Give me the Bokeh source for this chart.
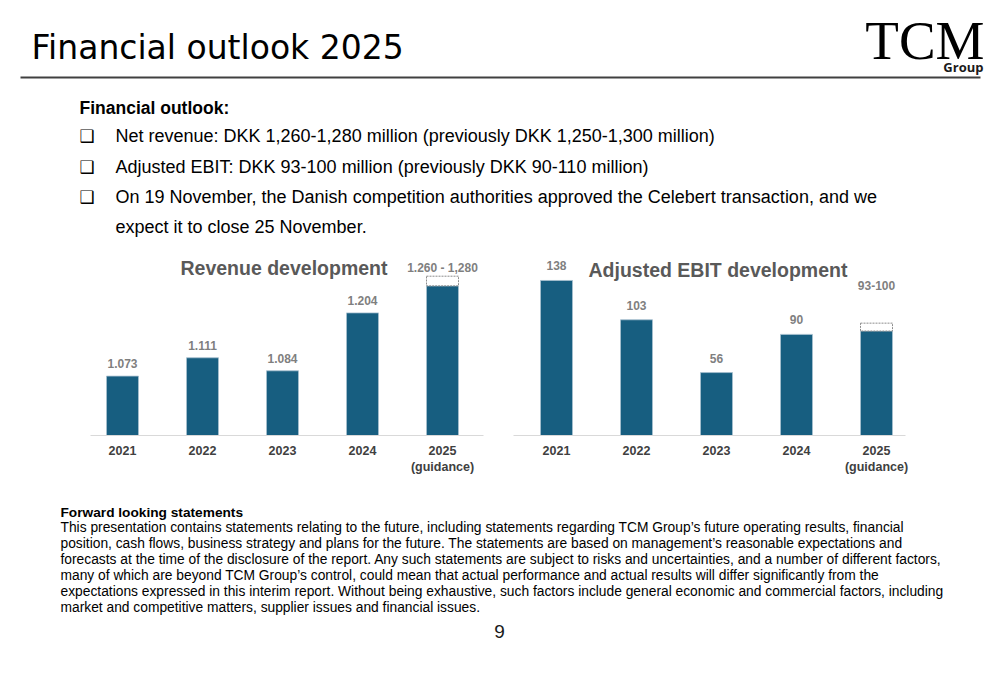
from bokeh.plotting import figure
from bokeh.layouts import column, row
from bokeh.models import Range1d, FixedTicker, Label
from bokeh.core.properties import value
from bokeh.embed import file_html
from bokeh.resources import INLINE

# ---------------- data ----------------
years = ["2021", "2022", "2023", "2024", "2025"]
year_tick_labels = ["2021", "2022", "2023", "2024", "2025\n(guidance)"]

revenue = [1073, 1111, 1084, 1204, 1260]          # DKK million, 2025 = guidance low end
revenue_guidance_high = 1280
revenue_labels = ["1.073", "1.111", "1.084", "1.204"]
revenue_guidance_label = "1.260 - 1,280"

ebit = [138, 103, 56, 90, 93]                      # DKK million, 2025 = guidance low end
ebit_guidance_high = 100
ebit_labels = ["138", "103", "56", "90"]
ebit_guidance_label = "93-100"

page_title = "Financial outlook 2025"
outlook_heading = "Financial outlook:"
bullet_lines = [
    "Net revenue: DKK 1,260-1,280 million (previously DKK 1,250-1,300 million)",
    "Adjusted EBIT: DKK 93-100 million (previously DKK 90-110 million)",
    "On 19 November, the Danish competition authorities approved the Celebert transaction, and we",
]
bullet_continuation = "expect it to close 25 November."

disclaimer_heading = "Forward looking statements"
disclaimer_lines = [
    "This presentation contains statements relating to the future, including statements regarding TCM Group\u2019s future operating results, financial",
    "position, cash flows, business strategy and plans for the future. The statements are based on management\u2019s reasonable expectations and",
    "forecasts at the time of the disclosure of the report. Any such statements are subject to risks and uncertainties, and a number of different factors,",
    "many of which are beyond TCM Group\u2019s control, could mean that actual performance and actual results will differ significantly from the",
    "expectations expressed in this interim report. Without being exhaustive, such factors include general economic and commercial factors, including",
    "market and competitive matters, supplier issues and financial issues.",
]
page_number = "9"

# ---------------- styles ----------------
SANS = "Liberation Sans"
BAR = "#175E80"
BAR_EDGE = "#a8c0cf"
VALUE_GREY = "#7f7f7f"
YEAR_GREY = "#404040"
TITLE_GREY = "#595959"
idx = list(range(len(years)))


def blank(width, height, x0, y0):
    """Layout-only figure whose data units equal page pixels."""
    p = figure(width=width, height=height,
               x_range=Range1d(x0, x0 + width), y_range=Range1d(y0 + height, y0),
               toolbar_location=None, output_backend="svg",
               x_axis_type=None, y_axis_type=None,
               min_border=0, outline_line_color=None)
    p.grid.visible = False
    return p


def txt(p, x, y, t, size, font=SANS, style="normal", color="#000000", align="left"):
    p.text(x=x, y=y, text=t, text_font=value(font), text_font_style=style,
           text_font_size=size, text_color=color, text_align=align,
           text_baseline="middle")


# ---------------- header ----------------
hdr = blank(984, 253, 0, 0)
txt(hdr, [31], [46.5], [page_title], "33px", font="DejaVu Sans")
hdr.segment(x0=[20], y0=[77], x1=[980], y1=[77], line_color="#404040", line_width=2)
txt(hdr, [984], [39.5], ["TCM"], "55px", font="Liberation Serif", align="right")
txt(hdr, [983], [66], ["Group"], "13px", font="Open Sans", style="bold",
    color="#1a1a1a", align="right")
txt(hdr, [79], [107], [outlook_heading], "17.5px", style="bold")
bullet_y = [135, 166, 196]
txt(hdr, [79] * 3, bullet_y, ["\u2751"] * 3, "17px", font="DejaVu Sans")
txt(hdr, [115] * 3, bullet_y, bullet_lines, "18px")
txt(hdr, [115], [226], [bullet_continuation], "18px")


def style_axis(p):
    p.grid.visible = False
    ax = p.xaxis[0]
    ax.ticker = FixedTicker(ticks=idx)
    ax.major_label_overrides = dict(zip(idx, year_tick_labels))
    ax.axis_line_color = "#d9d9d9"
    ax.axis_line_width = 1
    ax.major_tick_line_color = None
    ax.minor_tick_line_color = None
    ax.major_tick_out = 0
    ax.major_tick_in = 0
    ax.major_label_standoff = 8
    ax.major_label_text_font = SANS
    ax.major_label_text_font_style = "bold"
    ax.major_label_text_font_size = "12.5px"
    ax.major_label_text_color = YEAR_GREY


# ---------------- revenue chart ----------------
rev_min = 950
rev = figure(width=500, height=232, x_range=Range1d(-0.4, 4.5125),
             y_range=Range1d(rev_min, 1327), toolbar_location=None,
             output_backend="svg", y_axis_location=None,
             min_border_left=90, min_border_right=17, min_border_top=0,
             min_border_bottom=48, outline_line_color=None)
style_axis(rev)
rev.vbar(x=idx, bottom=rev_min, top=revenue, width=0.4, fill_color=BAR,
         line_color=BAR_EDGE, line_width=0.8)
rev.vbar(x=[idx[-1]], bottom=[revenue[-1]], top=[revenue_guidance_high], width=0.4,
         fill_color="white", line_color="#8c8c8c", line_dash="2 1", line_width=1)
rev.text(x=idx[:-1], y=revenue[:-1], text=revenue_labels, text_align="center",
         text_baseline="middle", y_offset=-12.5, text_font=value(SANS),
         text_font_style="bold", text_font_size="12px", text_color=VALUE_GREY)
rev.text(x=[idx[-1]], y=[revenue_guidance_high], text=[revenue_guidance_label],
         text_align="center", text_baseline="middle", y_offset=-8,
         text_font=value(SANS), text_font_style="bold", text_font_size="12px",
         text_color=VALUE_GREY)
rev.add_layout(Label(x=90, y=168, x_units="screen", y_units="screen",
                     text="Revenue development", text_font=SANS,
                     text_font_style="bold", text_font_size="19.5px",
                     text_color=TITLE_GREY, text_baseline="middle"))

# ---------------- EBIT chart ----------------
eb = figure(width=484, height=232, x_range=Range1d(-0.5375, 4.3625),
            y_range=Range1d(0, 162), toolbar_location=None,
            output_backend="svg", y_axis_location=None,
            min_border_left=13, min_border_right=79, min_border_top=0,
            min_border_bottom=50, outline_line_color=None)
style_axis(eb)
eb.vbar(x=idx, bottom=0, top=ebit, width=0.4, fill_color=BAR,
        line_color=BAR_EDGE, line_width=0.8)
eb.vbar(x=[idx[-1]], bottom=[ebit[-1]], top=[ebit_guidance_high], width=0.4,
        fill_color="white", line_color="#8c8c8c", line_dash="2 1", line_width=1)
eb.text(x=idx[:-1], y=ebit[:-1], text=ebit_labels, text_align="center",
        text_baseline="middle", y_offset=-14.5, text_font=value(SANS),
        text_font_style="bold", text_font_size="12px", text_color=VALUE_GREY)
eb.text(x=[idx[-1]], y=[ebit_guidance_high], text=[ebit_guidance_label],
        text_align="center", text_baseline="middle", y_offset=-38,
        text_font=value(SANS), text_font_style="bold", text_font_size="12px",
        text_color=VALUE_GREY)
eb.add_layout(Label(x=75, y=166, x_units="screen", y_units="screen",
                    text="Adjusted EBIT development", text_font=SANS,
                    text_font_style="bold", text_font_size="19.5px",
                    text_color=TITLE_GREY, text_baseline="middle"))

# ---------------- footer ----------------
foot = blank(984, 184, 0, 485)
txt(foot, [60], [512], [disclaimer_heading], "13.7px", style="bold")
txt(foot, [60] * len(disclaimer_lines),
    [527 + 15.9 * i for i in range(len(disclaimer_lines))],
    disclaimer_lines, "13.8px")
txt(foot, [499], [631], [page_number], "19px", color="#1a1a1a", align="center")

layout = column(hdr, row(rev, eb), foot)
open("out.html", "w").write(file_html(layout, INLINE))
